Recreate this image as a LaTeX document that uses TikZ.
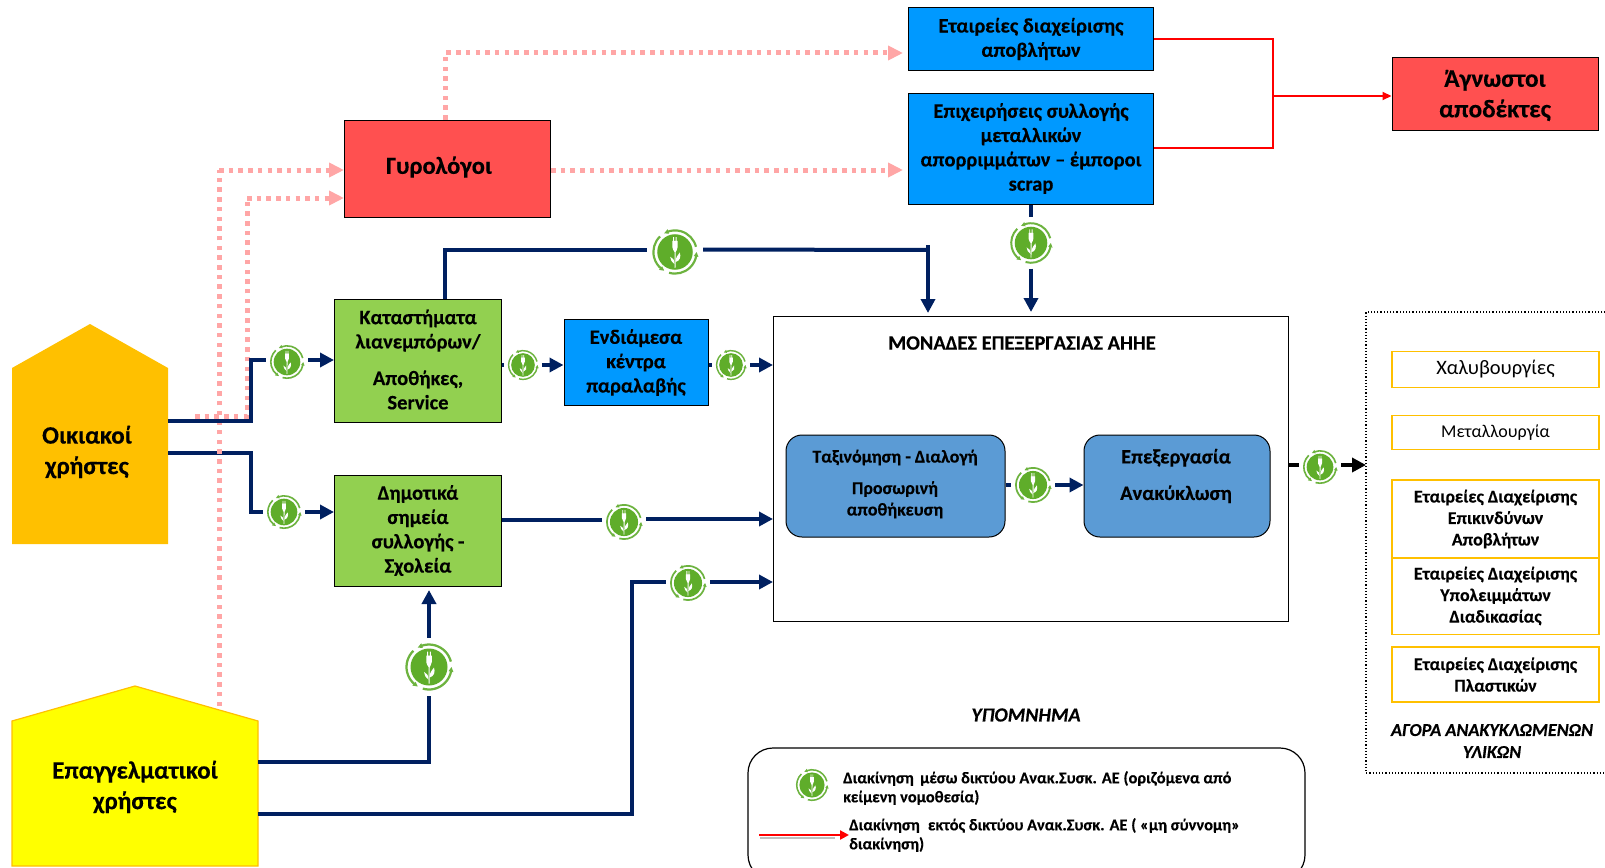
\documentclass[tikz,border=0pt]{standalone}
\usepackage{fontspec}
\setmainfont{Carlito}[BoldFeatures={FakeBold=0.25},BoldItalicFeatures={FakeBold=0.3}]
\usetikzlibrary{arrows.meta}
\definecolor{navyl}{HTML}{002060}
\definecolor{pinkl}{HTML}{FFA6A6}
\definecolor{redbox}{HTML}{FF5050}
\definecolor{bluebox}{HTML}{0099FF}
\definecolor{greenbox}{HTML}{92D050}
\definecolor{steel}{HTML}{5B9BD5}
\definecolor{amber}{HTML}{FFC000}
\definecolor{purey}{HTML}{FFFF00}
\definecolor{purer}{HTML}{FF0000}
\definecolor{iconring}{HTML}{6DB33F}
\definecolor{icondisc}{HTML}{5FAD2A}
\newcommand{\fsz}[2]{\fontsize{#1}{#2}\selectfont}
\tikzset{
 boxn/.style={draw=black,line width=1pt,rectangle,inner sep=0pt,align=center,font=\bfseries\fsz{20.5}{24.3}},
 redn/.style={boxn,fill=redbox},
 bluen/.style={boxn,fill=bluebox},
 greenn/.style={boxn,fill=greenbox},
 roundn/.style={boxn,fill=steel,rounded corners=16pt},
 marketn/.style={draw=amber,line width=1.6pt,rectangle,inner sep=0pt,align=center,font=\bfseries\fsz{18}{21.5}},
 navyc/.style={draw=navyl,line width=4pt,line join=miter},
 navya/.style={navyc,-{Triangle[length=14pt,width=14pt]}},
 blackc/.style={draw=black,line width=4pt},
 blacka/.style={blackc,-{Triangle[length=14pt,width=14pt]}},
 pinka/.style={draw=pinkl,line width=5pt,dash pattern=on 4.5pt off 5.2pt,-{Triangle[length=15pt,width=14pt]}},
 pinkc/.style={draw=pinkl,line width=5pt,dash pattern=on 4.5pt off 5.2pt},
 redc/.style={draw=purer,line width=1.6pt},
 reda/.style={draw=purer,line width=2pt,-{Triangle[length=9pt,width=8pt]}},
 iconn/.style={circle,fill=white,inner sep=0pt},
 labeln/.style={inner sep=0pt,align=center},
 legendn/.style={inner sep=0pt,align=left,anchor=west,font=\bfseries\fsz{16.4}{19}},
}
% name, x, y, radius
\newcommand{\plugicon}[4]{%
 \node[iconn,minimum size={2.32*#4 pt}] (#1) at (#2,#3) {};
 \begin{scope}[shift={(#2,#3)},x=#4pt,y=#4pt]
  \fill[icondisc] (0,0) circle (0.74);
  \foreach \a in {0,120,240}{
   \draw[iconring,line width={0.09*#4 pt}] (\a+14:0.9) arc (\a+14:\a+112:0.9);
   \fill[iconring] (\a+108:0.8) -- (\a+108:1.0) -- (\a+120:0.9) -- cycle;
  }
  \fill[white] (-0.08,0.62) -- (-0.04,0.62) -- (-0.04,0.46) -- (0.03,0.46) -- (0.03,0.62) -- (0.07,0.62) -- (0.07,0.46) -- (0.11,0.46) -- (0.11,0.2) .. controls (0.11,0.1) and (0.04,0.06) .. (0.03,0) -- (0.02,-0.66) -- (-0.02,-0.66) -- (-0.02,0) .. controls (-0.04,0.06) and (-0.11,0.1) .. (-0.11,0.2) -- (-0.11,0.46) -- (-0.08,0.46) -- cycle;
  \fill[white] (0.02,-0.42) .. controls (0.02,-0.2) and (0.14,-0.12) .. (0.2,-0.02) .. controls (0.26,-0.2) and (0.2,-0.38) .. (0.02,-0.42) -- cycle;
  \fill[white] (-0.02,-0.5) .. controls (-0.14,-0.42) and (-0.2,-0.3) .. (-0.2,-0.2) .. controls (-0.1,-0.24) and (-0.02,-0.32) .. (-0.02,-0.5) -- cycle;
 \end{scope}
}
\begin{document}
\begin{tikzpicture}[x=1pt,y=-1pt]
\useasboundingbox (0,0) rectangle (1605,867);
\begin{scope}
\clip (0,0) rectangle (1605,867);

% houses
\path[fill=amber] (12,544) -- (12,368) -- (90,324) -- (168,368) -- (168,544) -- cycle;
\node[labeln,minimum width=156pt,minimum height=176pt] (oik) at (90,456) {};
\node[labeln,font=\bfseries\fsz{25}{30.5}] (oikt) at (87,452) {Οικιακοί\\χρήστες};
\path[fill=purey,draw=amber,line width=1.2pt] (12,866) -- (12,721) -- (135,686) -- (258,721) -- (258,866) -- cycle;
\node[labeln,minimum width=246pt,minimum height=145pt] (epa) at (135,793.5) {};
\node[labeln,font=\bfseries\fsz{25}{30.5}] (epat) at (135,787) {Επαγγελματικοί\\χρήστες};

% boxes
\node[bluen,minimum width=245pt,minimum height=62pt] (waste) at (1031,39) {Εταιρείες διαχείρισης\\αποβλήτων};
\node[bluen,minimum width=245pt,minimum height=111pt] (scrap) at (1031,148.5) {Επιχειρήσεις συλλογής\\μεταλλικών\\απορριμμάτων – έμποροι\\scrap};
\node[redn,minimum width=206pt,minimum height=72pt] (unk) at (1495,94) {};
\node[labeln,font=\bfseries\fsz{25.2}{30.5}] (unkt) at (1495,95.5) {Άγνωστοι\\αποδέκτες};
\node[redn,minimum width=206pt,minimum height=97pt] (gyr) at (447.5,168.5) {};
\node[labeln,font=\bfseries\fsz{24.5}{29}] (gyrt) at (439,167) {Γυρολόγοι};
\node[greenn,minimum width=167pt,minimum height=123pt] (ret) at (418,360.5) {};
\node[labeln,font=\bfseries\fsz{20.5}{24.3}] (rett) at (418,359.5) {Καταστήματα\\λιανεμπόρων/\\[12.3pt]Αποθήκες,\\Service};
\node[bluen,minimum width=144pt,minimum height=86pt] (mid) at (636,362.5) {Ενδιάμεσα\\κέντρα\\παραλαβής};
\node[greenn,minimum width=167pt,minimum height=111pt] (mun) at (418,530.5) {Δημοτικά\\σημεία\\συλλογής -\\Σχολεία};
\node[draw=black,line width=1pt,fill=white,rectangle,inner sep=0pt,minimum width=515pt,minimum height=305pt] (plant) at (1031,468.5) {};
\node[labeln,font=\bfseries\fsz{20.4}{24}] (plantt) at (1022,343) {ΜΟΝΑΔΕΣ ΕΠΕΞΕΡΓΑΣΙΑΣ ΑΗΗΕ};
\node[roundn,minimum width=219pt,minimum height=102pt] (sort) at (895.5,486) {};
\node[labeln,font=\bfseries\fsz{18}{21.5}] (sortt) at (895,484) {Ταξινόμηση - Διαλογή\\[10pt]Προσωρινή\\αποθήκευση};
\node[roundn,minimum width=186pt,minimum height=102pt] (proc) at (1177,486) {};
\node[labeln,font=\bfseries\fsz{20.5}{24}] (proct) at (1176,476) {Επεξεργασία\\[12.5pt]Ανακύκλωση};

% market
\draw[black,line width=1.2pt,dotted] (1612,312) -- (1366,312) -- (1366,773) -- (1612,773);
\coordinate (mkt) at (1366,465);
\node[marketn,minimum width=207pt,minimum height=36pt,font=\fsz{20.5}{25}] (m1) at (1495.5,369.5) {Χαλυβουργίες};
\node[marketn,minimum width=207pt,minimum height=34pt,font=\fsz{18}{22}] (m2) at (1495.5,432.5) {Μεταλλουργία};
\node[marketn,minimum width=207pt,minimum height=78pt] (m3) at (1495.5,519) {Εταιρείες Διαχείρισης\\Επικινδύνων\\Αποβλήτων};
\node[marketn,minimum width=207pt,minimum height=77pt] (m4) at (1495.5,596) {Εταιρείες Διαχείρισης\\Υπολειμμάτων\\Διαδικασίας};
\node[marketn,minimum width=207pt,minimum height=55pt] (m5) at (1495.5,674.5) {Εταιρείες Διαχείρισης\\Πλαστικών};
\node[labeln,font=\bfseries\itshape\fsz{18.2}{22}] (mktt) at (1492,741) {ΑΓΟΡΑ ΑΝΑΚΥΚΛΩΜΕΝΩΝ\\ΥΛΙΚΩΝ};

% icons
\plugicon{i1}{287}{362}{18}
\plugicon{i2}{284}{512}{18}
\plugicon{i3}{523}{365}{16}
\plugicon{i4}{731}{365}{16}
\plugicon{i5}{675}{252}{24}
\plugicon{i6}{1031}{243}{22}
\plugicon{i7}{624}{522}{19}
\plugicon{i8}{688}{583}{19}
\plugicon{i9}{429}{667}{25}
\plugicon{i10}{1033}{485}{19}
\plugicon{i11}{1320}{467}{18}

% navy connectors
\draw[navyc] (oik.east |- 0,453) -- (251,453) -- (251,512) -- (i2);
\draw[pinkc] (219,706) -- (219,170);
\draw[pinka] (219,170) -- (gyr.west |- 0,170);
\draw[pinkc] (195,416) -- (247,416) -- (247,198);
\draw[pinka] (247,198) -- (gyr.west |- 0,198);
\draw[navyc] (oik.east |- 0,421) -- (251,421) -- (251,360) -- (i1.west |- 0,360);
\draw[navya] (i1.east |- 0,360) -- (ret.west |- 0,360);
\draw[navya] (i2) -- (mun.west |- i2);
\draw[navyc] (ret.east |- i3) -- (i3);
\draw[navya] (i3) -- (mid.west |- i3);
\draw[navyc] (mid.east |- i4) -- (i4);
\draw[navya] (i4) -- (plant.west |- i4);
\draw[navyc] (ret.north -| 445,0) -- (445,249.5) -- (i5.west |- 0,249.5);
\draw[navyc] (i5.east |- 0,249.5) -- (928,250);
\draw[navya] (928,245) -- (928,313);
\draw[navyc] (scrap.south) -- (i6);
\draw[navya] (i6) -- (1031,312);
\draw[navyc] (mun.east |- 0,520) -- (i7.west |- 0,520);
\draw[navya] (i7.east |- 0,519) -- (plant.west |- 0,519);
\draw[navyc] (epa.east |- 0,762) -- (429,762) -- (i9);
\draw[navya] (i9) -- (429,590);
\draw[navyc] (epa.east |- 0,814) -- (632,814) -- (632,582) -- (i8.west |- 0,582);
\draw[navya] (i8.east |- 0,582) -- (plant.west |- 0,582);
\draw[navyc] (sort.east |- i10) -- (i10);
\draw[navya] (i10) -- (proc.west |- i10);
\draw[blackc] (plant.east |- 0,465) -- (i11.west |- 0,465);
\draw[blacka] (i11.east |- 0,465) -- (mkt);

% pink from collectors
\draw[pinka] (gyr.north -| 445,0) -- (445,53) -- (903,53);
\draw[pinka] (gyr.east |- 0,170) -- (903,170);

% red connectors
\coordinate (rj) at (1273,96);
\draw[redc] (waste.east |- 0,39) -- (1273,39) -- (1273,148) -- (scrap.east |- 0,148);
\draw[reda] (rj) -- (unk.west |- rj);

% legend
\node[labeln,font=\bfseries\itshape\fsz{20}{23}] (legt) at (1026,715) {ΥΠΟΜΝΗΜΑ};
\draw[black,line width=1.2pt,rounded corners=25pt] (748,880) -- (748,748) -- (1305,748) -- (1305,880) -- cycle;
\plugicon{li}{812}{785}{17}
\node[legendn] (l1) at (843,788) {Διακίνηση\, μέσω δικτύου Ανακ.Συσκ. ΑΕ (οριζόμενα από\\κείμενη νομοθεσία)};
\node[legendn] (l2) at (849,835) {Διακίνηση\; εκτός δικτύου Ανακ.Συσκ. ΑΕ ( «μη σύννομη»\\διακίνηση)};
\coordinate (ls) at (759,835);
\draw[gray!50,line width=2pt] (760,838) -- (835,838);
\draw[purer,line width=2.6pt,-{Triangle[length=9pt,width=9pt]}] (ls) -- (l2.west);
\end{scope}
\end{tikzpicture}
\end{document}
